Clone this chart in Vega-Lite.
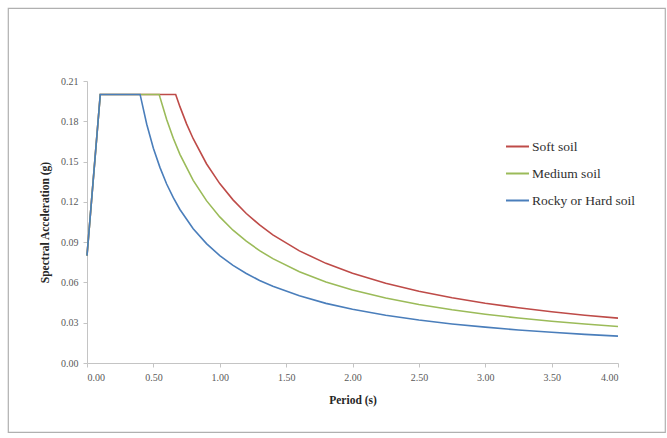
{
  "$schema": "https://vega.github.io/schema/vega-lite/v6.json",
  "width": 657,
  "height": 424,
  "autosize": {"type": "none"},
  "padding": {"left": 8, "top": 8, "right": 2, "bottom": 6},
  "background": "white",
  "config": {
    "view": {"stroke": "#b0b0b0", "strokeWidth": 1.2},
    "font": "Liberation Serif",
    "legend": {"labelFont": "Liberation Serif"},
    "axis": {
      "labelFont": "Liberation Serif",
      "labelFontSize": 10,
      "labelColor": "#595959",
      "titleFont": "Liberation Serif",
      "titleFontSize": 11.5,
      "titleFontWeight": "bold",
      "titleColor": "#262626",
      "domainColor": "#c4c4c4",
      "tickColor": "#c4c4c4",
      "tickSize": 4,
      "grid": false
    }
  },
  "data": {
    "values": [
      {"soil": "Soft soil", "T": 0.0, "Sa": 0.08},
      {"soil": "Soft soil", "T": 0.1, "Sa": 0.2},
      {"soil": "Soft soil", "T": 0.668, "Sa": 0.2},
      {"soil": "Soft soil", "T": 0.7, "Sa": 0.1909},
      {"soil": "Soft soil", "T": 0.75, "Sa": 0.1781},
      {"soil": "Soft soil", "T": 0.8, "Sa": 0.167},
      {"soil": "Soft soil", "T": 0.9, "Sa": 0.1484},
      {"soil": "Soft soil", "T": 1.0, "Sa": 0.1336},
      {"soil": "Soft soil", "T": 1.1, "Sa": 0.1215},
      {"soil": "Soft soil", "T": 1.2, "Sa": 0.1113},
      {"soil": "Soft soil", "T": 1.3, "Sa": 0.1028},
      {"soil": "Soft soil", "T": 1.4, "Sa": 0.0954},
      {"soil": "Soft soil", "T": 1.6, "Sa": 0.0835},
      {"soil": "Soft soil", "T": 1.8, "Sa": 0.0742},
      {"soil": "Soft soil", "T": 2.0, "Sa": 0.0668},
      {"soil": "Soft soil", "T": 2.25, "Sa": 0.0594},
      {"soil": "Soft soil", "T": 2.5, "Sa": 0.0534},
      {"soil": "Soft soil", "T": 2.75, "Sa": 0.0486},
      {"soil": "Soft soil", "T": 3.0, "Sa": 0.0445},
      {"soil": "Soft soil", "T": 3.25, "Sa": 0.0411},
      {"soil": "Soft soil", "T": 3.5, "Sa": 0.0382},
      {"soil": "Soft soil", "T": 3.75, "Sa": 0.0356},
      {"soil": "Soft soil", "T": 4.0, "Sa": 0.0334},
      {"soil": "Medium soil", "T": 0.0, "Sa": 0.08},
      {"soil": "Medium soil", "T": 0.1, "Sa": 0.2},
      {"soil": "Medium soil", "T": 0.544, "Sa": 0.2},
      {"soil": "Medium soil", "T": 0.55, "Sa": 0.1978},
      {"soil": "Medium soil", "T": 0.6, "Sa": 0.1813},
      {"soil": "Medium soil", "T": 0.65, "Sa": 0.1674},
      {"soil": "Medium soil", "T": 0.7, "Sa": 0.1554},
      {"soil": "Medium soil", "T": 0.8, "Sa": 0.136},
      {"soil": "Medium soil", "T": 0.9, "Sa": 0.1209},
      {"soil": "Medium soil", "T": 1.0, "Sa": 0.1088},
      {"soil": "Medium soil", "T": 1.1, "Sa": 0.0989},
      {"soil": "Medium soil", "T": 1.2, "Sa": 0.0907},
      {"soil": "Medium soil", "T": 1.3, "Sa": 0.0837},
      {"soil": "Medium soil", "T": 1.4, "Sa": 0.0777},
      {"soil": "Medium soil", "T": 1.6, "Sa": 0.068},
      {"soil": "Medium soil", "T": 1.8, "Sa": 0.0604},
      {"soil": "Medium soil", "T": 2.0, "Sa": 0.0544},
      {"soil": "Medium soil", "T": 2.25, "Sa": 0.0484},
      {"soil": "Medium soil", "T": 2.5, "Sa": 0.0435},
      {"soil": "Medium soil", "T": 2.75, "Sa": 0.0396},
      {"soil": "Medium soil", "T": 3.0, "Sa": 0.0363},
      {"soil": "Medium soil", "T": 3.25, "Sa": 0.0335},
      {"soil": "Medium soil", "T": 3.5, "Sa": 0.0311},
      {"soil": "Medium soil", "T": 3.75, "Sa": 0.029},
      {"soil": "Medium soil", "T": 4.0, "Sa": 0.0272},
      {"soil": "Rocky or Hard soil", "T": 0.0, "Sa": 0.08},
      {"soil": "Rocky or Hard soil", "T": 0.1, "Sa": 0.2},
      {"soil": "Rocky or Hard soil", "T": 0.4, "Sa": 0.2},
      {"soil": "Rocky or Hard soil", "T": 0.45, "Sa": 0.1778},
      {"soil": "Rocky or Hard soil", "T": 0.5, "Sa": 0.16},
      {"soil": "Rocky or Hard soil", "T": 0.55, "Sa": 0.1455},
      {"soil": "Rocky or Hard soil", "T": 0.6, "Sa": 0.1333},
      {"soil": "Rocky or Hard soil", "T": 0.65, "Sa": 0.1231},
      {"soil": "Rocky or Hard soil", "T": 0.7, "Sa": 0.1143},
      {"soil": "Rocky or Hard soil", "T": 0.8, "Sa": 0.1},
      {"soil": "Rocky or Hard soil", "T": 0.9, "Sa": 0.0889},
      {"soil": "Rocky or Hard soil", "T": 1.0, "Sa": 0.08},
      {"soil": "Rocky or Hard soil", "T": 1.1, "Sa": 0.0727},
      {"soil": "Rocky or Hard soil", "T": 1.2, "Sa": 0.0667},
      {"soil": "Rocky or Hard soil", "T": 1.3, "Sa": 0.0615},
      {"soil": "Rocky or Hard soil", "T": 1.4, "Sa": 0.0571},
      {"soil": "Rocky or Hard soil", "T": 1.6, "Sa": 0.05},
      {"soil": "Rocky or Hard soil", "T": 1.8, "Sa": 0.0444},
      {"soil": "Rocky or Hard soil", "T": 2.0, "Sa": 0.04},
      {"soil": "Rocky or Hard soil", "T": 2.25, "Sa": 0.0356},
      {"soil": "Rocky or Hard soil", "T": 2.5, "Sa": 0.032},
      {"soil": "Rocky or Hard soil", "T": 2.75, "Sa": 0.0291},
      {"soil": "Rocky or Hard soil", "T": 3.0, "Sa": 0.0267},
      {"soil": "Rocky or Hard soil", "T": 3.25, "Sa": 0.0246},
      {"soil": "Rocky or Hard soil", "T": 3.5, "Sa": 0.0229},
      {"soil": "Rocky or Hard soil", "T": 3.75, "Sa": 0.0213},
      {"soil": "Rocky or Hard soil", "T": 4.0, "Sa": 0.02}
    ]
  },
  "mark": {"type": "line", "strokeWidth": 1.6, "interpolate": "linear"},
  "encoding": {
    "x": {
      "field": "T",
      "type": "quantitative",
      "title": "Period (s)",
      "scale": {"domain": [0, 4], "nice": false, "range": [79, 610]},
      "axis": {"values": [0, 0.5, 1, 1.5, 2, 2.5, 3, 3.5, 4], "format": ".2f", "offset": -69, "labelPadding": 5, "titlePadding": 12}
    },
    "y": {
      "field": "Sa",
      "type": "quantitative",
      "title": "Spectral Acceleration (g)",
      "scale": {"domain": [0, 0.21], "nice": false, "range": [355, 73]},
      "axis": {"values": [0, 0.03, 0.06, 0.09, 0.12, 0.15, 0.18, 0.21], "format": ".2f", "offset": -79, "labelPadding": 5, "titlePadding": 10}
    },
    "color": {
      "field": "soil",
      "type": "nominal",
      "scale": {
        "domain": ["Soft soil", "Medium soil", "Rocky or Hard soil"],
        "range": ["#be4b48", "#9bbb59", "#4a7ebb"]
      },
      "legend": {
        "title": null,
        "orient": "none",
        "legendX": 497,
        "legendY": 126,
        "symbolType": "stroke",
        "symbolSize": 529,
        "symbolStrokeWidth": 2,
        "labelFont": "Liberation Serif",
        "labelFontSize": 13.5,
        "labelColor": "#303030",
        "rowPadding": 8,
        "symbolOffset": 0,
        "labelOffset": 2,
        "padding": 0
      }
    },
    "order": {"field": "T"}
  }
}
